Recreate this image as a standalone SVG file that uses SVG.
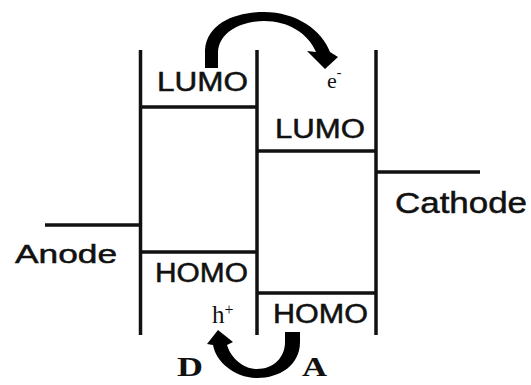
<svg xmlns="http://www.w3.org/2000/svg" width="531" height="385" viewBox="0 0 531 385">
<style>
.ln{stroke:#111;stroke-width:3.5;fill:none;stroke-linecap:butt}
.lbl{font-family:"Liberation Sans",Arial,sans-serif;fill:#111;stroke:#111;stroke-width:0.5}
.ser{font-family:"Liberation Serif","Times New Roman",serif;fill:#111}
.arr{fill:#000}
</style>
<rect width="531" height="385" fill="#fff"/>
<g id="donor">
<path class="ln" d="M140.5 50V335M257 50V335M140.5 107H257M140.5 252H257"/>
<text class="lbl" x="157" y="91" font-size="27" textLength="91" lengthAdjust="spacingAndGlyphs">LUMO</text>
<text class="lbl" x="155" y="282" font-size="27" textLength="93" lengthAdjust="spacingAndGlyphs">HOMO</text>
<text class="ser" x="177" y="376" font-size="27" font-weight="bold" textLength="26" lengthAdjust="spacingAndGlyphs">D</text>
</g>
<g id="acceptor">
<path class="ln" d="M376 50V335M257 151H376M257 293H376"/>
<text class="lbl" x="275" y="138" font-size="27" textLength="90" lengthAdjust="spacingAndGlyphs">LUMO</text>
<text class="lbl" x="273" y="323" font-size="27" textLength="95" lengthAdjust="spacingAndGlyphs">HOMO</text>
<text class="ser" x="302" y="376" font-size="27" font-weight="bold" textLength="25" lengthAdjust="spacingAndGlyphs">A</text>
</g>
<g id="anode">
<path class="ln" d="M45 225H140.5"/>
<text class="lbl" x="15" y="263" font-size="26" textLength="102" lengthAdjust="spacingAndGlyphs">Anode</text>
</g>
<g id="cathode">
<path class="ln" d="M376 172H480"/>
<text class="lbl" x="395" y="213" font-size="29" textLength="132" lengthAdjust="spacingAndGlyphs">Cathode</text>
</g>
<g id="connectors">
<path class="arr" d="M205 68L205 50C207 22 238 12 264 12C296 12 322 30 330 52L338 57L325 69L307 51L316 52C308 33 288 21 264 21C241 21 219 32 218 52L218 68Z"/>
<path class="arr" d="M300 332L300 342C300 365 280 378 257 378C235 378 216 362 213 345L207 344L218 330L233 342L227 345C231 358 243 369 257 369C273 369 285 358 285 342L285 332Z"/>
<text class="ser" x="327" y="88" font-size="22">e<tspan dy="-11" font-size="14">-</tspan></text>
<text class="ser" x="212" y="323" font-size="25">h<tspan dy="-8" font-size="16">+</tspan></text>
</g>
</svg>
